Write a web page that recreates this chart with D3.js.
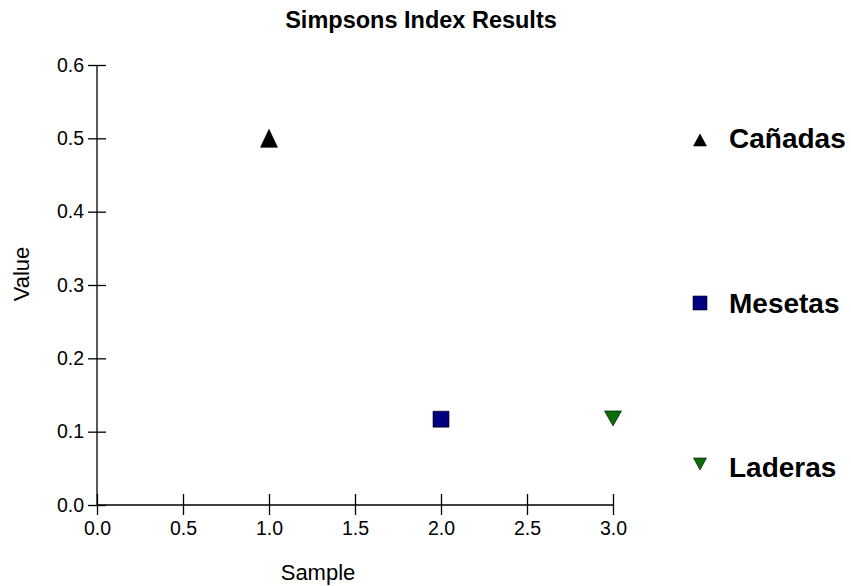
<!DOCTYPE html>
<html><head><meta charset="utf-8">
<script src="https://cdn.jsdelivr.net/npm/d3@7"></script>
<style>body{margin:0;background:#fff;} text{font-family:"Liberation Sans",Arial,sans-serif;}</style>
</head><body>
<svg id="c" width="851" height="586"></svg>
<script>
const categories = ["Cañadas", "Mesetas", "Laderas"];
const sampleX = [1.0, 2.0, 3.0];
const values = [0.5, 0.117, 0.118];
const colors = ["#000000", "#000080", "#0a6e0a"];
const symbols = ["triangle", "square", "triangleDown"];
const xTicks = [0, 0.5, 1.0, 1.5, 2.0, 2.5, 3.0];
const yTicks = [0, 0.1, 0.2, 0.3, 0.4, 0.5, 0.6];

const svg = d3.select("#c");
const x = d3.scaleLinear().domain([0, 3]).range([97, 613]);
const y = d3.scaleLinear().domain([0, 0.6]).range([505, 65]);
const font = "'Liberation Sans',Arial,sans-serif";

svg.append("text").attr("x", 421).attr("y", 28).attr("text-anchor", "middle")
  .attr("font-weight", "bold").attr("font-size", 23.5).text("Simpsons Index Results");

const xa = svg.append("g").attr("transform", "translate(0,505)")
  .call(d3.axisBottom(x).tickValues(xTicks).tickFormat(d3.format(".1f")).tickSizeOuter(0).tickSizeInner(10).tickPadding(6));
xa.selectAll(".tick line").attr("y1", -11).attr("y2", 10);
const ya = svg.append("g").attr("transform", "translate(97,0)")
  .call(d3.axisLeft(y).tickValues(yTicks).tickFormat(d3.format(".1f")).tickSizeOuter(0).tickSizeInner(9).tickPadding(4));
ya.selectAll(".tick line").attr("x1", -9).attr("x2", 9);
[xa, ya].forEach(a => {
  a.attr("font-size", 19.5).attr("font-family", font);
  a.select(".domain").attr("stroke", "#000").attr("stroke-width", 1.3);
  a.selectAll(".tick line").attr("stroke", "#000").attr("stroke-width", 1.3);
  a.selectAll(".tick text").attr("fill", "#000");
});
xa.select(".domain").attr("d", `M${x(0)},0H${x(3)}`);
ya.select(".domain").attr("d", `M0,${y(0)}V${y(0.6)}`);

svg.append("text").attr("x", 318).attr("y", 580).attr("text-anchor", "middle")
  .attr("font-size", 22).text("Sample");
svg.append("text").attr("transform", "translate(29,274) rotate(-90)").attr("text-anchor", "middle")
  .attr("font-size", 22).text("Value");

function shape(type, w, h) {
  const p = d3.path();
  if (type === "square") { p.rect(-w / 2, -h / 2, w, h); }
  else if (type === "triangle") { p.moveTo(0, -h / 2); p.lineTo(w / 2, h / 2); p.lineTo(-w / 2, h / 2); p.closePath(); }
  else { p.moveTo(0, h / 2); p.lineTo(w / 2, -h / 2); p.lineTo(-w / 2, -h / 2); p.closePath(); }
  return p.toString();
}
const markSize = {triangle: [17, 18], square: [16, 16], triangleDown: [17, 15]};
const legSize = {triangle: [13, 12], square: [14, 14], triangleDown: [13, 12]};

categories.forEach((c, i) => {
  const [w, h] = markSize[symbols[i]];
  svg.append("path").attr("d", shape(symbols[i], w, h))
    .attr("transform", `translate(${x(sampleX[i])},${y(values[i])})`)
    .attr("fill", colors[i]).attr("stroke", "#000").attr("stroke-width", 0.6);
});

const legY = [140, 303, 464];
const legBase = [148, 313, 477];
categories.forEach((c, i) => {
  const [w, h] = legSize[symbols[i]];
  svg.append("path").attr("d", shape(symbols[i], w, h))
    .attr("transform", `translate(700,${legY[i]})`)
    .attr("fill", colors[i]).attr("stroke", "#000").attr("stroke-width", 0.6);
  svg.append("text").attr("x", 729).attr("y", legBase[i]).attr("font-size", 28)
    .attr("font-weight", "bold").text(c);
});
</script>
</body></html>
